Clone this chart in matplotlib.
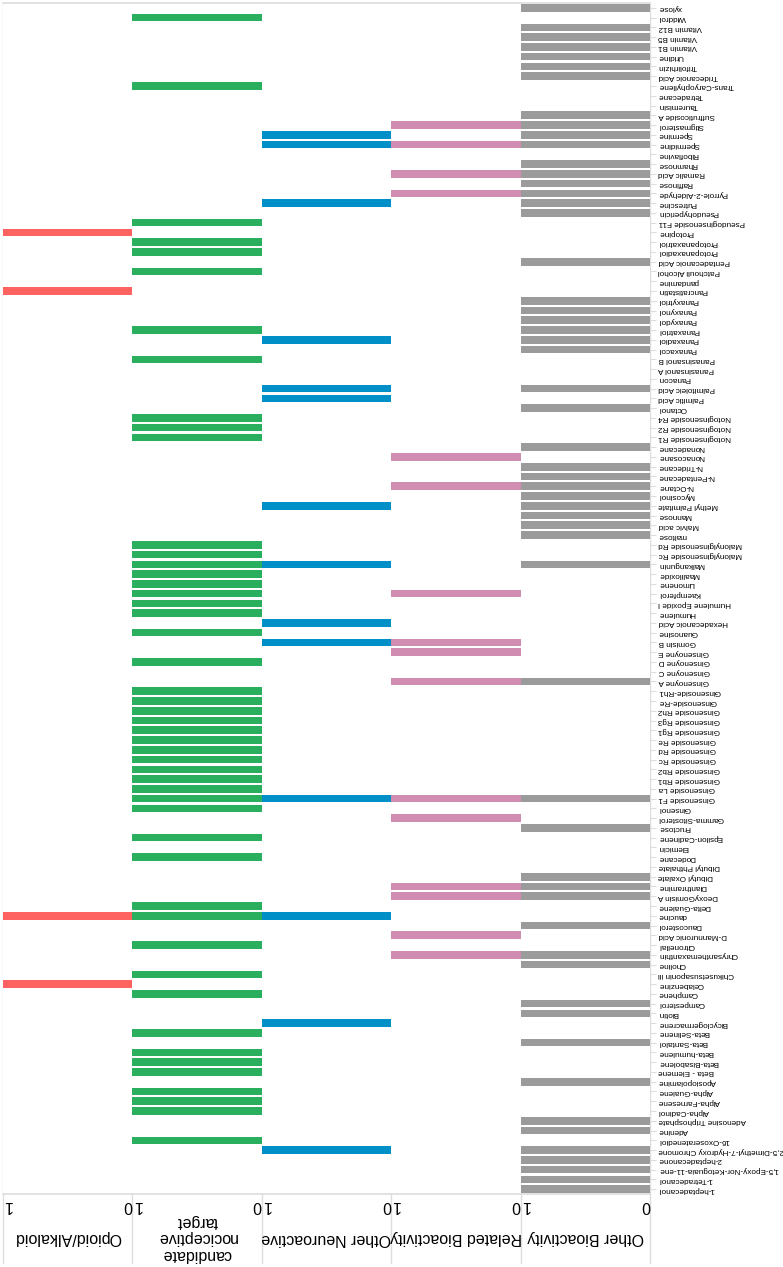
import matplotlib.pyplot as plt
from matplotlib.lines import Line2D
from matplotlib.transforms import ScaledTranslation

plt.rcParams['font.family'] = ['Liberation Sans', 'DejaVu Sans']

# compounds, bottom row first
compounds = [
    '1-heptadecanol', '1-Tetradecanol', '1,5-Epoxy-Nor-Ketoguaia-11-ene', '2-heptadecanone',
    '2,5-Dimethyl-7-Hydroxy Chromone', '16-Oxoseratenediol', 'Adenine', 'Adenosine Triphosphate',
    'Alpha-Cadinol', 'Alpha-Farnesene', 'Alpha-Guaiene', 'Aposiopolamine', 'Beta - Elemene',
    'Beta-Bisabolene', 'Beta-humulene', 'Beta-Santalol', 'Beta-Selinene', 'Bicyclogermacrene',
    'Biotin', 'Campesterol', 'Camphene', 'Celabenzine', 'Chikusetsusaponin iii', 'Choline',
    'Chrysanthemaxanthin', 'Citronellal', 'D-Mannuronic Acid', 'Daucosterol', 'daucine',
    'Delta-Guaiene', 'DeoxyGomisin A', 'Dianthramine', 'Dibutyl Oxalate', 'Dibutyl Phthalate',
    'Dodecane', 'Elemicin', 'Epsilon-Cadinene', 'Fructose', 'Gamma-Sitosterol', 'Ginsenol',
    'Ginsenoside F1', 'Ginsenoside La', 'Ginsenoside Rb1', 'Ginsenoside Rb2', 'Ginsenoside Rc',
    'Ginsenoside Rd', 'Ginsenoside Re', 'Ginsenoside Rg1', 'Ginsenoside Rg3', 'Ginsenoside Rh2',
    'Ginsenoside-Re', 'Ginsenoside-Rh1', 'Ginsenoyne A', 'Ginsenoyne C', 'Ginsenoyne D',
    'Ginsenoyne E', 'Gomisin B', 'Guanosine', 'Hexadecanoic Acid', 'Humulene',
    'Humulene Epoxide I', 'Kaempferol', 'Limonene', 'Maaliloxide', 'Malkangunin',
    'Malonylginsenoside Rc', 'Malonylginsenoside Rd', 'maltose', 'Malvic acid', 'Mannose',
    'Methyl Palmitate', 'Mycosinol', 'N-Octane', 'N-Pentadecane', 'N-Tridecane', 'Nonacosane',
    'Nonadecane', 'Notoginsenoside R1', 'Notoginsenoside R2', 'Notoginsenoside R4', 'Octanol',
    'Palmitic Acid', 'Palmitoleic Acid', 'Panacon', 'Panasinsanol A', 'Panasinsanol B',
    'Panaxacol', 'Panaxadiol', 'Panaxatriol', 'Panaxydol', 'Panaxynol', 'Panaxytriol',
    'Pancratistatin', 'pandamine', 'Patchouli Alcohol', 'Pentadecanoic Acid', 'Protopanaxadiol',
    'Protopanaxatriol', 'Protopine', 'Pseudoginsenoside F11', 'Pseudohypericin', 'Putrescine',
    'Pyrrole-2-Aldehyde', 'Raffinose', 'Ramalic Acid', 'Rhamnose', 'Riboflavine', 'Spermidine',
    'Spermine', 'Stigmasterol', 'Suffruticoside A', 'Tauremisin', 'Tetradecane',
    'Trans-Caryophyllene', 'Tridecanoic Acid', 'Trifolirhizin', 'Uridine', 'Vitamin B1',
    'Vitamin B5', 'Vitamin B12', 'Widdrol', 'xylose',
]

opioid = ['Protopine', 'Pancratistatin', 'daucine', 'Celabenzine']

nociceptive = [
    'Widdrol', 'Trans-Caryophyllene', 'Pseudoginsenoside F11', 'Protopanaxatriol',
    'Protopanaxadiol', 'Patchouli Alcohol', 'Panaxatriol', 'Panasinsanol B',
    'Notoginsenoside R4', 'Notoginsenoside R2', 'Notoginsenoside R1', 'Malonylginsenoside Rd',
    'Malonylginsenoside Rc', 'Malkangunin', 'Maaliloxide', 'Limonene', 'Kaempferol',
    'Humulene Epoxide I', 'Humulene', 'Guanosine', 'Ginsenoyne D', 'Ginsenoside-Rh1',
    'Ginsenoside-Re', 'Ginsenoside Rh2', 'Ginsenoside Rg3', 'Ginsenoside Rg1', 'Ginsenoside Re',
    'Ginsenoside Rd', 'Ginsenoside Rc', 'Ginsenoside Rb2', 'Ginsenoside Rb1', 'Ginsenoside La',
    'Ginsenoside F1', 'Ginsenol', 'Epsilon-Cadinene', 'Dodecane', 'Delta-Guaiene', 'daucine',
    'Citronellal', 'Chikusetsusaponin iii', 'Camphene', 'Beta-Selinene', 'Beta-humulene',
    'Beta-Bisabolene', 'Beta - Elemene', 'Alpha-Guaiene', 'Alpha-Farnesene', 'Alpha-Cadinol',
    '16-Oxoseratenediol',
]

neuroactive = [
    'Spermine', 'Spermidine', 'Putrescine', 'Panaxadiol', 'Palmitoleic Acid', 'Palmitic Acid',
    'Methyl Palmitate', 'Malkangunin', 'Hexadecanoic Acid', 'Gomisin B', 'Ginsenoside F1',
    'daucine', 'Bicyclogermacrene', '2,5-Dimethyl-7-Hydroxy Chromone',
]

related = [
    'Stigmasterol', 'Spermidine', 'Ramalic Acid', 'Pyrrole-2-Aldehyde', 'Nonacosane', 'N-Octane',
    'Kaempferol', 'Gomisin B', 'Ginsenoyne E', 'Ginsenoyne A', 'Ginsenoside F1',
    'Gamma-Sitosterol', 'Dianthramine', 'DeoxyGomisin A', 'D-Mannuronic Acid',
    'Chrysanthemaxanthin',
]

other = [
    'xylose', 'Vitamin B12', 'Vitamin B5', 'Vitamin B1', 'Uridine', 'Trifolirhizin',
    'Tridecanoic Acid', 'Suffruticoside A', 'Stigmasterol', 'Spermine', 'Spermidine', 'Rhamnose',
    'Ramalic Acid', 'Raffinose', 'Pyrrole-2-Aldehyde', 'Putrescine', 'Pseudohypericin',
    'Pentadecanoic Acid', 'Panaxytriol', 'Panaxynol', 'Panaxydol', 'Panaxatriol', 'Panaxadiol',
    'Panaxacol', 'Palmitoleic Acid', 'Octanol', 'Nonadecane', 'N-Tridecane', 'N-Pentadecane',
    'N-Octane', 'Mycosinol', 'Methyl Palmitate', 'Mannose', 'Malvic acid', 'maltose',
    'Malkangunin', 'Ginsenoyne A', 'Ginsenoside F1', 'Fructose', 'Dibutyl Oxalate', 'Dianthramine',
    'DeoxyGomisin A', 'Daucosterol', 'Chrysanthemaxanthin', 'Choline', 'Campesterol', 'Biotin',
    'Beta-Santalol', 'Aposiopolamine', 'Adenosine Triphosphate', 'Adenine',
    '2,5-Dimethyl-7-Hydroxy Chromone', '2-heptadecanone', '1,5-Epoxy-Nor-Ketoguaia-11-ene',
    '1-Tetradecanol', '1-heptadecanol',
]

titles = ['Opioid/Alkaloid', 'candidate\nnociceptive\ntarget', 'Other Neuroactive',
          'Related Bioactivity', 'Other Bioactivity']
groups = [opioid, nociceptive, neuroactive, related, other]
colors = ['#ff6361', '#2aaf5f', '#008fc7', '#d08cb1', '#9b9b9b']

W, H = 783, 1267
fig = plt.figure(figsize=(W / 100, H / 100), dpi=100)

left, right = 3, 650
top, bottom = 3, 1194
pw = (right - left) / len(groups)
grid = '#dddddd'
n = len(compounds)

for k, (title, members, color) in enumerate(zip(titles, groups, colors)):
    ax = fig.add_axes([(left + k * pw) / W, (H - bottom) / H, pw / W, (bottom - top) / H])
    values = [1 if c in members else 0 for c in compounds]
    ax.barh(range(n), values, height=0.78, color=color)
    ax.set_xlim(1, 0)
    ax.set_ylim(-0.5, n - 0.5)
    ax.spines['left'].set_visible(False)
    ax.spines['right'].set_visible(False)
    for s in ['top', 'bottom']:
        ax.spines[s].set_color(grid)
        ax.spines[s].set_linewidth(1.2)

    ax.set_xticks([1, 0])
    ax.set_xticklabels(['1', '0'], rotation=180, fontsize=11.5)
    lab1, lab0 = ax.get_xticklabels()
    lab1.set_ha('left')
    lab0.set_ha('right')
    lab1.set_transform(lab1.get_transform() + ScaledTranslation(4 / 100, 0, fig.dpi_scale_trans))
    lab0.set_transform(lab0.get_transform() + ScaledTranslation(-6 / 100, 0, fig.dpi_scale_trans))
    ax.tick_params(axis='x', length=0, pad=3)

    if k == len(groups) - 1:
        ax.yaxis.tick_right()
        ax.set_yticks(range(n))
        ax.set_yticklabels(compounds, rotation=180, fontsize=5.9, ha='left', va='center')
        ax.tick_params(axis='y', length=4, width=0.8, color=grid, pad=2)
    else:
        ax.set_yticks([])

    fig.text((left + (k + 0.5) * pw) / W, 1 - 1238 / H, title, rotation=180,
             ha='center', va='center', ma='center', fontsize=11.5, linespacing=1.1)

# panel separators running down into the header strip
for k in range(len(groups) + 1):
    x = (left + k * pw) / W
    fig.add_artist(Line2D([x, x], [0.003, 1 - top / H], color=grid, lw=1, zorder=0))

fig.savefig('out.png', dpi=100)
